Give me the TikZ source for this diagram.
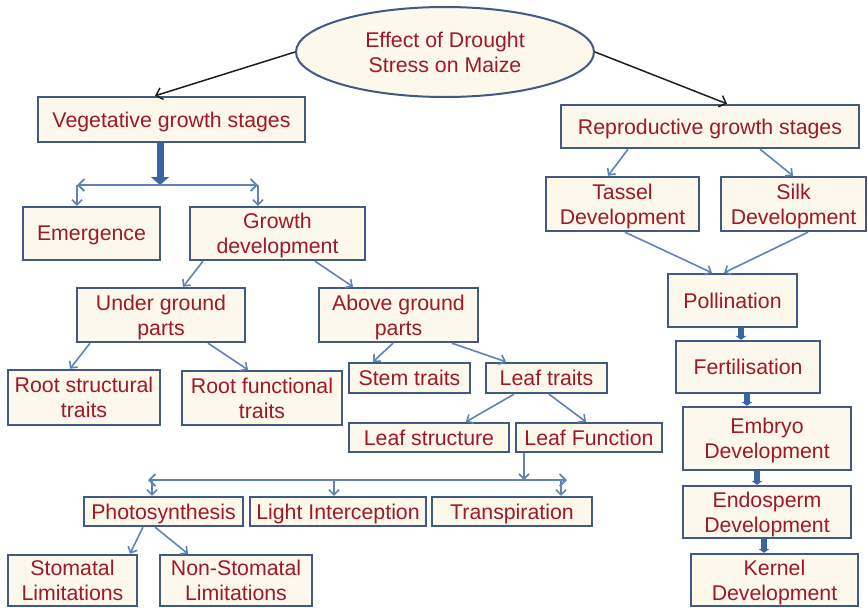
\documentclass[tikz,border=0pt]{standalone}
\usepackage{fontspec}
\setmainfont{Liberation Sans}
\usetikzlibrary{arrows.meta,shapes.geometric}
\definecolor{boxfill}{RGB}{253,248,236}
\definecolor{boxline}{RGB}{66,90,130}
\definecolor{txtred}{RGB}{160,24,40}
\definecolor{conc}{RGB}{95,130,185}
\definecolor{thickc}{RGB}{60,100,165}
\definecolor{blk}{RGB}{30,30,30}
\tikzset{
  bx/.style={draw=boxline, fill=boxfill, line width=2.4pt, inner sep=0pt, align=center,
    text=txtred, text depth=0pt, font=\fontsize{21.3}{25}\selectfont},
  conn/.style={draw=conc, line width=1.6pt, -{Straight Barb[length=5pt,width=10pt]}},
  dconn/.style={draw=conc, line width=1.8pt, {Straight Barb[length=6pt,width=12pt]}-{Straight Barb[length=6pt,width=12pt]}},
  bigarr/.style={draw=thickc, line width=7pt, -{Triangle[length=8pt,width=18pt]}},
  midarr/.style={draw=thickc, line width=5.5pt, -{Triangle[length=4pt,width=11pt]}},
  blkarr/.style={draw=blk, line width=1.5pt, -{Straight Barb[length=6pt,width=12pt]}},
}
\begin{document}
\begin{tikzpicture}[x=1pt,y=-1pt]
\useasboundingbox (0,0) rectangle (868,608);
% top
\node[ellipse, bx, line width=2pt, minimum width=298pt, minimum height=90pt] (ell) at (445,52) {Effect of Drought\\Stress on Maize};
\node[bx, minimum width=267pt, minimum height=45pt] (veg) at (171.5,119.5) {Vegetative growth stages};
\node[bx, minimum width=298pt, minimum height=43pt] (rep) at (710,126.5) {Reproductive growth stages};
% vegetative side
\node[bx, minimum width=137pt, minimum height=53pt] (emer) at (91.5,233.5) {Emergence};
\node[bx, minimum width=175pt, minimum height=53pt] (grow) at (277.5,233.5) {Growth\\development};
\node[bx, minimum width=168pt, minimum height=54pt] (under) at (161,315) {Under ground\\parts};
\node[bx, minimum width=159pt, minimum height=54pt] (above) at (398.5,315) {Above ground\\parts};
\node[bx, minimum width=152pt, minimum height=55pt] (rs) at (84,397.5) {Root structural\\traits};
\node[bx, minimum width=160pt, minimum height=54pt] (rf) at (262,398) {Root functional\\traits};
\node[bx, minimum width=121pt, minimum height=30pt] (stem) at (409.5,378) {Stem traits};
\node[bx, minimum width=121pt, minimum height=30pt] (leaft) at (546.5,378) {Leaf traits};
\node[bx, minimum width=160pt, minimum height=29pt] (leafs) at (429,437.5) {Leaf structure};
\node[bx, minimum width=146pt, minimum height=29pt] (leaff) at (589,437.5) {Leaf Function};
\node[bx, minimum width=159pt, minimum height=29pt] (photo) at (163.5,511.5) {Photosynthesis};
\node[bx, minimum width=176pt, minimum height=29pt] (light) at (338,511.5) {Light Interception};
\node[bx, minimum width=160pt, minimum height=29pt] (trans) at (512,511.5) {Transpiration};
\node[bx, minimum width=129pt, minimum height=51pt] (stom) at (72.5,580.5) {Stomatal\\Limitations};
\node[bx, minimum width=152pt, minimum height=51pt] (nstom) at (236,580.5) {Non-Stomatal\\Limitations};
% reproductive side
\node[bx, minimum width=153pt, minimum height=54pt] (tass) at (622.5,204) {Tassel\\Development};
\node[bx, minimum width=145pt, minimum height=54pt] (silk) at (793.5,204) {Silk\\Development};
\node[bx, minimum width=129pt, minimum height=53pt] (poll) at (732.5,300.5) {Pollination};
\node[bx, minimum width=144pt, minimum height=52pt] (fert) at (748,367) {Fertilisation};
\node[bx, minimum width=168pt, minimum height=63pt] (emb) at (767,438.5) {Embryo\\Development};
\node[bx, minimum width=168pt, minimum height=52pt] (endo) at (767,512) {Endosperm\\Development};
\node[bx, minimum width=167pt, minimum height=52pt] (kern) at (774.5,580) {Kernel\\Development};
% black arrows from ellipse
\draw[blkarr] (ell.west) -- ([xshift=-16.5pt]veg.north);
\draw[blkarr] (ell.east) -- ([xshift=17pt]rep.north);
% vegetative bus
\coordinate (vbL) at (77,185);
\coordinate (vbR) at (258,185);
\coordinate (vbM) at (160,185);
\draw[bigarr] ([xshift=-11.5pt]veg.south) -- (vbM);
\draw[dconn] (vbL) -- (vbR);
\draw[conn] (vbL) -- (vbL |- emer.north);
\draw[conn] (vbR) -- (vbR |- grow.north);
% growth tree
\draw[conn] ([xshift=-74.5pt]grow.south) -- ([xshift=22pt]under.north);
\draw[conn] ([xshift=37.5pt]grow.south) -- ([xshift=-45.5pt]above.north);
\draw[conn] ([xshift=-71pt]under.south) -- ([xshift=-14pt]rs.north);
\draw[conn] ([xshift=47pt]under.south) -- ([xshift=-14pt]rf.north);
\draw[conn] ([xshift=-5.5pt]above.south) -- ([xshift=-36.5pt]stem.north);
\draw[conn] ([xshift=53.5pt]above.south) -- ([xshift=-40.5pt]leaft.north);
\draw[conn] ([xshift=-32.5pt]leaft.south) -- ([xshift=37pt]leafs.north);
\draw[conn] ([xshift=2.5pt]leaft.south) -- ([xshift=-3pt]leaff.north);
% leaf function bus
\coordinate (lbL) at (148,480);
\coordinate (lbR) at (567,480);
\coordinate (lbF) at (524,480);
\draw[conn] ([xshift=-65pt]leaff.south) -- (lbF);
\draw[dconn] (lbL) -- (lbR);
\coordinate (lb1) at (152,480);
\coordinate (lb2) at (334,480);
\coordinate (lb3) at (561,480);
\draw[conn] (lb1) -- (lb1 |- photo.north);
\draw[conn] (lb2) -- (lb2 |- light.north);
\draw[conn] (lb3) -- (lb3 |- trans.north);
\draw[conn] ([xshift=-20.5pt]photo.south) -- ([xshift=57.5pt]stom.north);
\draw[conn] ([xshift=-8.5pt]photo.south) -- ([xshift=-48pt]nstom.north);
% reproductive tree
\draw[conn] ([xshift=-82pt]rep.south) -- ([xshift=-14.5pt]tass.north);
\draw[conn] ([xshift=50pt]rep.south) -- ([xshift=-0.5pt]silk.north);
\draw[conn] ([xshift=2.5pt]tass.south) -- ([xshift=-20.5pt]poll.north);
\draw[conn] ([xshift=14.5pt]silk.south) -- ([xshift=-8.5pt]poll.north);
\draw[midarr] ([xshift=8.5pt]poll.south) -- ([xshift=8.5pt]poll.south |- fert.north);
\draw[midarr] ([xshift=-1pt]fert.south) -- ([xshift=-1pt]fert.south |- emb.north);
\draw[midarr] ([xshift=-10pt]emb.south) -- ([xshift=-10pt]emb.south |- endo.north);
\draw[midarr] ([xshift=-3pt]endo.south) -- ([xshift=-3pt]endo.south |- kern.north);
\end{tikzpicture}
\end{document}
